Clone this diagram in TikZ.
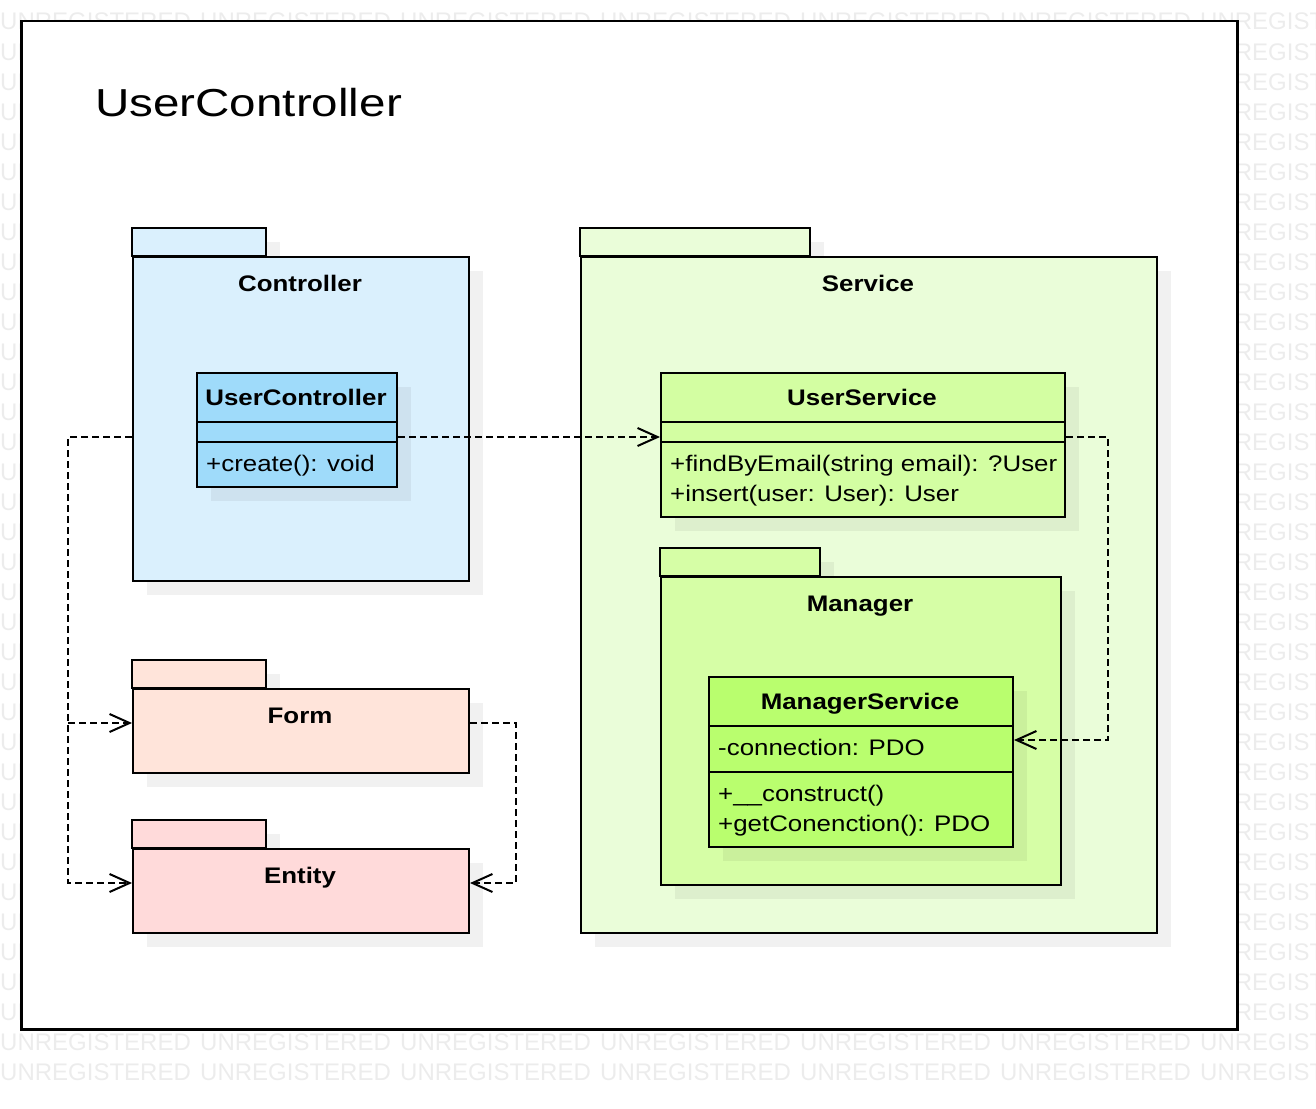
\documentclass[tikz,border=0pt]{standalone}
\usepackage{fontspec}
\setmainfont{Liberation Sans}[FakeStretch=1.15]
\newfontfamily\titlefont{Liberation Sans}[FakeStretch=1.22]
\newfontfamily\wmarkfont{Liberation Sans}
\usetikzlibrary{arrows.meta, shadows}

\definecolor{wmarkgray}{HTML}{ECECEC}
\definecolor{ctrlblue}{HTML}{DAF0FD}
\definecolor{clsblue}{HTML}{9FDBFA}
\definecolor{formpeach}{HTML}{FFE4DA}
\definecolor{entitypink}{HTML}{FFDADA}
\definecolor{srvgreen}{HTML}{EAFDD9}
\definecolor{usrvgreen}{HTML}{D3FEA2}
\definecolor{mgrgreen}{HTML}{D6FEA6}
\definecolor{msrvgreen}{HTML}{B9FE6E}

\tikzset{
  shad/.style={drop shadow={shadow xshift=14pt, shadow yshift=-14pt, opacity=0.055, fill=black}},
  pkg/.style={draw=black, line width=2pt, inner sep=0pt, anchor=north west, shad},
  pkgtab/.style={draw=black, line width=2pt, shad},
  cls/.style={draw=black, line width=2pt, inner sep=0pt, anchor=north west, shad},
  sep/.style={line width=2pt},
  txt/.style={font=\fontsize{22.5}{27}\selectfont, inner sep=0pt},
  btxt/.style={txt, font=\fontsize{22.5}{27}\selectfont\bfseries},
  wmark/.style={font=\wmarkfont\fontsize{24}{28}\selectfont, text=wmarkgray, inner sep=0pt, anchor=base west},
  dep/.style={line width=2pt, dash pattern=on 7pt off 4pt, -{Straight Barb[length=20pt, width=18pt, line width=2pt]}}
}

\begin{document}
\begin{tikzpicture}[x=1pt, y=-1pt]
    \useasboundingbox (0,0) rectangle (1316,1108);
    \clip (0,0) rectangle (1316,1108);

    % 1. Watermark behind the frame
    \foreach \r in {0,...,35}
        \foreach \c in {0,...,6}
            \node[wmark] at (\c*200, 30+\r*30) {UNREGISTERED};

    % 2. Frame and title
    \node[draw=black, line width=2.5pt, fill=white, inner sep=0pt, anchor=north west,
          minimum width=1216pt, minimum height=1008pt] (frame) at (20,20) {};
    \node[font=\titlefont\fontsize{39}{46}\selectfont, inner sep=0pt, anchor=base west] (title) at (95,116) {UserController};

    % 3. Package Controller
    \draw[pkgtab, fill=ctrlblue] (132,228) rectangle (266,256);
    \node[pkg, fill=ctrlblue, minimum width=336pt, minimum height=324pt] (ctrl) at (132,256) {};
    \node[btxt, anchor=base] (ctrl-name) at (300,291) {Controller};

    % Class UserController
    \node[cls, fill=clsblue, minimum width=200pt, minimum height=114pt] (ucls) at (196,372) {};
    \draw[sep] (196,422) -- (396,422);
    \draw[sep] (196,442) -- (396,442);
    \node[btxt, anchor=base] (ucls-name) at (296,405) {UserController};
    \node[txt, anchor=base west] (ucls-op) at (206,471) {+create(): void};

    % 4. Packages Form and Entity
    \draw[pkgtab, fill=formpeach] (132,660) rectangle (266,688);
    \node[pkg, fill=formpeach, minimum width=336pt, minimum height=84pt] (form) at (132,688) {};
    \node[btxt, anchor=base] (form-name) at (300,723) {Form};

    \draw[pkgtab, fill=entitypink] (132,820) rectangle (266,848);
    \node[pkg, fill=entitypink, minimum width=336pt, minimum height=84pt] (entity) at (132,848) {};
    \node[btxt, anchor=base] (entity-name) at (300,883) {Entity};

    % 5. Package Service
    \draw[pkgtab, fill=srvgreen] (580,228) rectangle (810,256);
    \node[pkg, fill=srvgreen, minimum width=576pt, minimum height=676pt] (srv) at (580,256) {};
    \node[btxt, anchor=base] (srv-name) at (868,291) {Service};

    % Class UserService
    \node[cls, fill=usrvgreen, minimum width=404pt, minimum height=144pt] (usrv) at (660,372) {};
    \draw[sep] (660,422) -- (1064,422);
    \draw[sep] (660,442) -- (1064,442);
    \node[btxt, anchor=base] (usrv-name) at (862,405) {UserService};
    \node[txt, anchor=base west] (usrv-op1) at (670,471) {+findByEmail(string email): ?User};
    \node[txt, anchor=base west] (usrv-op2) at (670,501) {+insert(user: User): User};

    % Package Manager
    \draw[pkgtab, fill=mgrgreen] (660,548) rectangle (820,576);
    \node[pkg, fill=mgrgreen, minimum width=400pt, minimum height=308pt] (mgr) at (660,576) {};
    \node[btxt, anchor=base] (mgr-name) at (860,611) {Manager};

    % Class ManagerService
    \node[cls, fill=msrvgreen, minimum width=304pt, minimum height=170pt] (msrv) at (708,676) {};
    \draw[sep] (708,726) -- (1012,726);
    \draw[sep] (708,772) -- (1012,772);
    \node[btxt, anchor=base] (msrv-name) at (860,709) {ManagerService};
    \node[txt, anchor=base west] (msrv-attr) at (718,755) {-connection: PDO};
    \node[txt, anchor=base west] (msrv-op1) at (718,801) {+\_\_construct()};
    \node[txt, anchor=base west] (msrv-op2) at (718,831) {+getConenction(): PDO};

    % 6. Dependencies (dashed, open arrow)
    \coordinate (row) at (0,437);
    \coordinate (mrow) at (0,740);
    \coordinate (lbus) at (68,0);
    \coordinate (rbus) at (516,0);
    \coordinate (mbus) at (1108,0);
    \coordinate (formin) at ([yshift=-35pt]form.north west);
    \coordinate (formout) at ([yshift=-35pt]form.north east);
    \coordinate (entin) at ([yshift=-35pt]entity.north west);
    \coordinate (entout) at ([yshift=-35pt]entity.north east);

    \draw[dep] (ucls.east |- row) -- (usrv.west |- row);
    \draw[dep] (ctrl.west |- row) -| (lbus |- entin) -- (entin);
    \draw[dep] (lbus |- formin) -- (formin);
    \draw[dep] (formout) -- (rbus |- formout) -- (rbus |- entout) -- (entout);
    \draw[dep] (usrv.east |- row) -| (mbus |- mrow) -- (msrv.east |- mrow);
\end{tikzpicture}
\end{document}
